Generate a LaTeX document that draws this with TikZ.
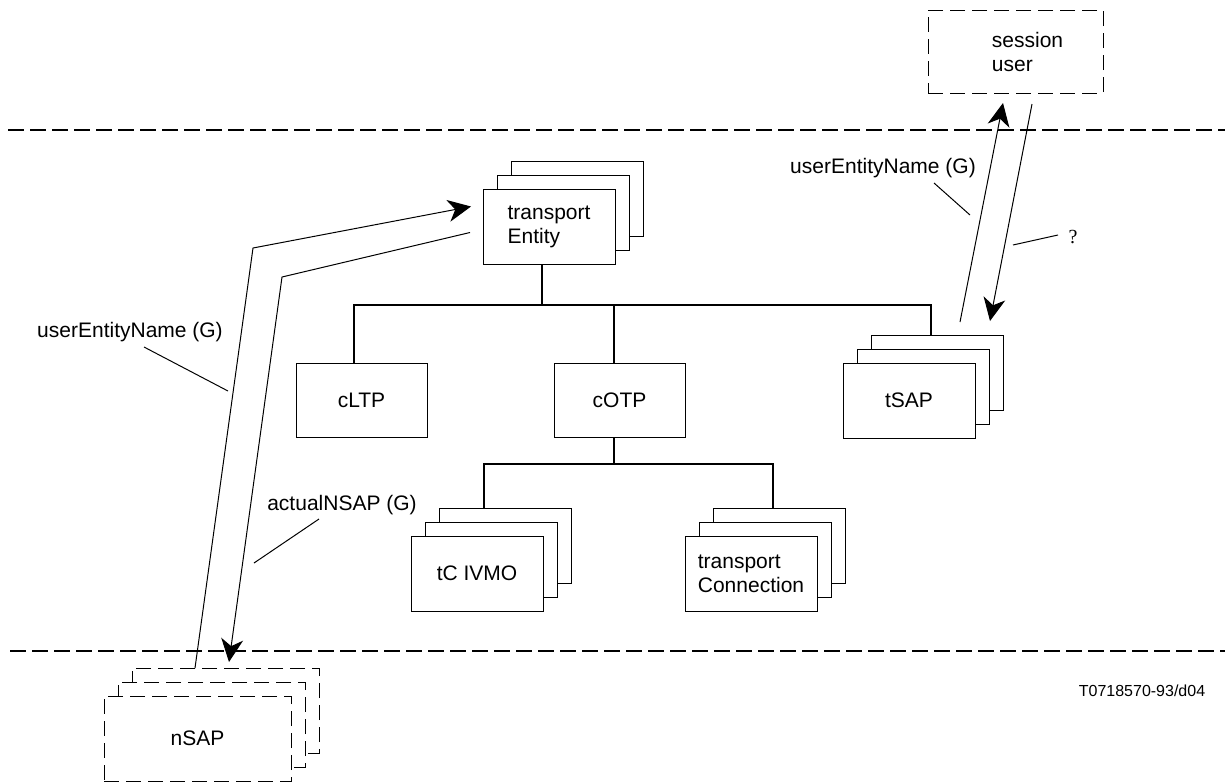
\documentclass[tikz,border=0pt]{standalone}
\usepackage{fontspec}
\setmainfont{Liberation Sans}
\newfontfamily\qserif{Liberation Serif}
\usetikzlibrary{arrows.meta}
\newcommand\lbl{\fontsize{21}{24}\selectfont}
\begin{document}
\begin{tikzpicture}[x=1pt,y=-1pt,
  box/.style={draw, line width=1pt, fill=white, minimum width=132pt, minimum height=75pt,
              inner sep=0pt, outer sep=0pt, anchor=north west, font=\lbl},
  dbox/.style={box, dash pattern=on 15pt off 7pt, minimum width=187pt, minimum height=85pt},
  treeline/.style={line width=2pt},
  arr/.style={line width=1pt},
  arrowend/.style={-{Stealth[length=23pt,width=22pt,inset=7pt]}},
  lead/.style={line width=1pt},
  sepline/.style={line width=1.3pt, dash pattern=on 16pt off 6pt},
  lab/.style={font=\lbl, inner sep=0pt}]
\useasboundingbox (0,0) rectangle (1225,782);

% separators
\coordinate (s1a) at (8,130); \coordinate (s1b) at (1225,130);
\coordinate (s2a) at (10,651); \coordinate (s2b) at (1225,651);
\draw[sepline] (s1a) -- (s1b);
\draw[sepline] (s2a) -- (s2b);

% session user
\node[box, dash pattern=on 15pt off 7pt, minimum width=175pt, minimum height=83pt, align=left] (su) at (928,10) {\hspace*{24pt}session\\\hspace*{24pt}user};

% transport Entity stack
\node[box] (te3) at (511,161) {};
\node[box] (te2) at (497,175) {};
\node[box, align=left] (te) at (483,189) {transport\\Entity};

% second level
\node[box, minimum width=131pt, minimum height=74pt] (cltp) at (296,363) {cLTP};
\node[box, minimum width=131pt, minimum height=74pt] (cotp) at (554,363) {cOTP};

\node[box] (tsap3) at (871,335) {};
\node[box] (tsap2) at (857,349) {};
\node[box] (tsap) at (843,363) {tSAP};

% third level
\node[box] (tc3) at (439,508) {};
\node[box] (tc2) at (425,522) {};
\node[box] (tc) at (411,536) {tC IVMO};

\node[box] (conn3) at (713,508) {};
\node[box] (conn2) at (699,522) {};
\node[box, align=left] (conn) at (685,536) {transport\\Connection};

% nSAP dashed stack
\node[dbox] (nsap3) at (132,668) {};
\node[dbox] (nsap2) at (118,682) {};
\node[dbox] (nsap) at (104,696) {nSAP};

% tree connectors
\coordinate (bar1) at (0,305);
\coordinate (bar2) at (0,464);
\draw[treeline] ([xshift=-7pt]te.south) -- ([xshift=-7pt]te.south |- bar1);
\draw[treeline] ([xshift=-8pt]cltp.north) |- ([xshift=-6pt]tsap3.north |- bar1) -- ([xshift=-6pt]tsap3.north);
\draw[treeline] ([xshift=-6pt]cotp.north |- bar1) -- ([xshift=-6pt]cotp.north);
\draw[treeline] ([xshift=-6pt]cotp.south) -- ([xshift=-6pt]cotp.south |- bar2);
\draw[treeline] ([xshift=-21pt]tc3.north) |- ([xshift=-6pt]conn3.north |- bar2) -- ([xshift=-6pt]conn3.north);

% left arrows
\coordinate (a1b) at (253,248);
\coordinate (a2b) at (282,277);
\draw[arr, arrowend] ([xshift=63pt]nsap3.north west) -- (a1b) -- ([xshift=-12pt,yshift=20pt]te.west);
\draw[arr, arrowend] ([xshift=-13pt,yshift=-6pt]te.west) -- (a2b) -- ([xshift=97pt,yshift=6pt]nsap3.north west);

% right arrows
\draw[arr, arrowend] ([xshift=89pt,yshift=13pt]tsap3.north west) -- ([xshift=75pt,yshift=-10pt]su.south west);
\draw[arr, arrowend] ([xshift=104pt,yshift=-11pt]su.south west) -- ([xshift=119pt,yshift=14pt]tsap3.north west);

% labels and leaders
\node[lab] (l1) at (130,332) {userEntityName (G)};
\coordinate (l1a) at (144,347); \coordinate (l1b) at (228,391);
\draw[lead] (l1a) -- (l1b);

\node[lab] (l2) at (342,505) {actualNSAP (G)};
\coordinate (l2a) at (319,519); \coordinate (l2b) at (254,563);
\draw[lead] (l2a) -- (l2b);

\node[lab] (l3) at (883,168) {userEntityName (G)};
\coordinate (l3a) at (934,183); \coordinate (l3b) at (970,215);
\draw[lead] (l3a) -- (l3b);

\node[inner sep=0pt, font=\qserif\fontsize{20}{23}\selectfont] (l4) at (1073,237) {?};
\coordinate (l4a) at (1013,245); \coordinate (l4b) at (1058,235);
\draw[lead] (l4a) -- (l4b);

\node[inner sep=0pt, font=\fontsize{16}{19}\selectfont] (ref) at (1142,691) {T0718570-93/d04};
\end{tikzpicture}
\end{document}
